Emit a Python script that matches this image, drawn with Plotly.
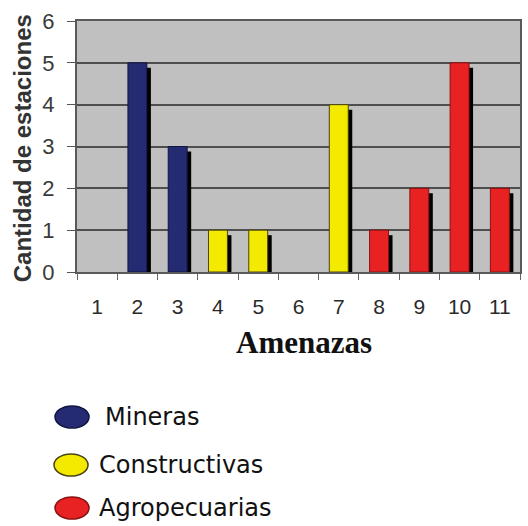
import plotly.graph_objects as go

# ---- data ----
categories = [1, 2, 3, 4, 5, 6, 7, 8, 9, 10, 11]
tick_labels = [str(c) for c in categories]
y_ticks = [0, 1, 2, 3, 4, 5, 6]

mineras_x = [2, 3]
mineras_y = [5, 3]
constructivas_x = [4, 5, 7]
constructivas_y = [1, 1, 4]
agropecuarias_x = [8, 9, 10, 11]
agropecuarias_y = [1, 2, 5, 2]

series = [
    ("Mineras", mineras_x, mineras_y, "#242b72", "#10153f"),
    ("Constructivas", constructivas_x, constructivas_y, "#f4ea00", "#4a4410"),
    ("Agropecuarias", agropecuarias_x, agropecuarias_y, "#e82222", "#8a1010"),
]

# ---- layout geometry (pixels) ----
W, H = 528, 526
L, R, T, B = 77, 6, 21, 254
plot_w = W - L - R
plot_h = H - T - B


def px_x(px):
    return (px - L) / plot_w


def px_y(py):
    return (H - B - py) / plot_h


bar_w = 0.47
sh_dx = 0.1
sh_dy = 0.12

fig = go.Figure()

# shadows (on main y axis, drawn below)
for name, xs, ys, col, line in series:
    fig.add_trace(go.Bar(
        x=xs, y=ys, base=[-sh_dy] * len(xs),
        width=bar_w, offset=-bar_w / 2 + sh_dx,
        marker=dict(color="#000000", line=dict(width=0)),
        showlegend=False, hoverinfo="skip", yaxis="y"))

# bars (on overlay axis, drawn above shadows)
for name, xs, ys, col, line in series:
    fig.add_trace(go.Bar(
        x=xs, y=ys, name=name,
        width=bar_w, offset=-bar_w / 2,
        marker=dict(color=col, line=dict(color=line, width=1)),
        showlegend=False, yaxis="y2"))

fig.update_layout(
    width=W, height=H,
    margin=dict(l=L, r=R, t=T, b=B),
    barmode="overlay",
    paper_bgcolor="white",
    plot_bgcolor="#c0c0c0",
    showlegend=False,
    font=dict(family="Liberation Sans, Arial, sans-serif", color="#333333"),
)

fig.update_xaxes(
    range=[0.5, 11.5],
    tickmode="array", tickvals=categories, ticktext=tick_labels,
    ticks="outside", ticklen=15, tickcolor="rgba(0,0,0,0)",
    showgrid=False, zeroline=False,
    showline=True, linecolor="#5a5a5a", linewidth=2, mirror=True,
    tickfont=dict(size=21, color="#2a2a2a"),
    minor=dict(tickmode="array", tickvals=[c + 0.5 for c in [0] + categories],
               ticks="outside", ticklen=6, tickcolor="#666666", showgrid=False),
)

fig.update_layout(
    yaxis=dict(
        range=[0, 6], tickmode="array", tickvals=y_ticks,
        ticks="outside", ticklen=16, tickcolor="rgba(0,0,0,0)",
        showgrid=True, gridcolor="#4e4e4e", gridwidth=2,
        zeroline=False,
        showline=True, linecolor="#5a5a5a", linewidth=2, mirror=True,
        tickfont=dict(size=22, color="#3a3a3a"),
    ),
    yaxis2=dict(
        range=[0, 6], tickmode="array", tickvals=y_ticks,
        overlaying="y", side="left",
        ticks="outside", ticklen=9, tickcolor="#555555",
        showticklabels=False, showgrid=False, zeroline=False, showline=False,
    ),
)

annotations = [
    dict(text="<b>Cantidad de estaciones</b>", textangle=-90,
         x=px_x(22), y=px_y(148), xref="paper", yref="paper",
         xanchor="center", yanchor="middle",
         showarrow=False, font=dict(size=24, color="#333333",
                                    family="Liberation Sans, Arial, sans-serif")),
    dict(text="<b>Amenazas</b>",
         x=px_x(305), y=px_y(342), xref="paper", yref="paper",
         xanchor="center", yanchor="middle",
         showarrow=False, font=dict(size=31, color="#111111",
                                    family="Liberation Serif, Times New Roman, serif")),
]

shapes = []
legend_pos = [(72, 417, 103), (71, 465, 97), (72, 508, 97)]
for (name, xs, ys, col, line), (cx, cy, tx) in zip(series, legend_pos):
    shapes.append(dict(
        type="circle", xref="paper", yref="paper",
        xsizemode="pixel", ysizemode="pixel",
        xanchor=px_x(cx), yanchor=px_y(cy),
        x0=-17, x1=17, y0=-11, y1=11,
        fillcolor=col, line=dict(color=line, width=1.5), layer="above"))
    annotations.append(dict(
        text=name, x=px_x(tx), y=px_y(cy), xref="paper", yref="paper",
        xanchor="left", yanchor="middle", showarrow=False,
        font=dict(size=24, color="#111111",
                  family="DejaVu Sans, Verdana, sans-serif")))

fig.update_layout(annotations=annotations, shapes=shapes)

fig.write_html("out.html")
